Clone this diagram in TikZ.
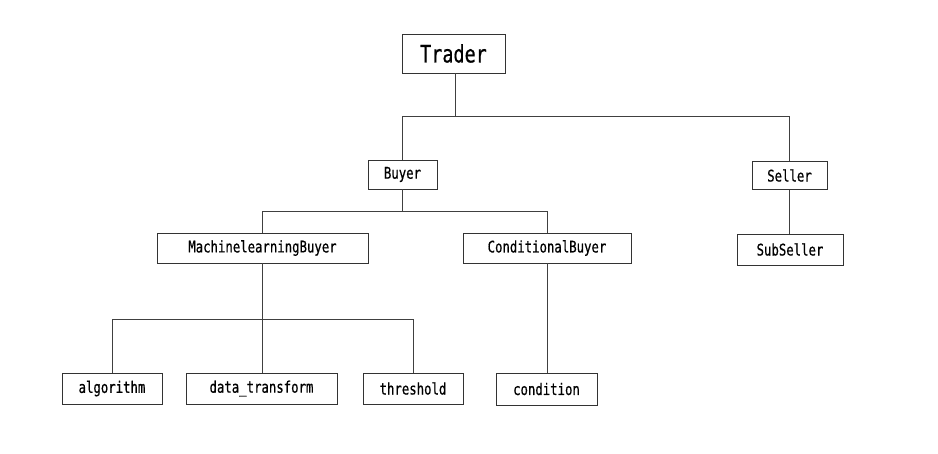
\documentclass[tikz,border=0pt]{standalone}
\usepackage{fontspec}
\newfontfamily\treefont[FakeStretch=0.77, FakeBold=0.6]{DejaVu Sans Mono}
\usetikzlibrary{positioning, calc}

\tikzset{
  cls/.style={draw=black!80, line width=0.8pt, fill=white, inner sep=0pt,
    font=\treefont\fontsize{16}{16}\selectfont},
  link/.style={draw=black!75, line width=0.8pt}
}

\begin{document}
\begin{tikzpicture}[x=1pt, y=-1pt]
            \useasboundingbox (0,0) rectangle (938,453);
            % classes
            \node[cls, minimum width=103pt, minimum height=39pt, font=\treefont\fontsize{24}{24}\selectfont] (Trader) at (453.5,53.5) {Trader};
            \node[cls, minimum width=69pt, minimum height=29pt] (Buyer) at (402.5,174.5) {Buyer};
            \node[cls, minimum width=75pt, minimum height=28pt] (Seller) at (789.5,175.5) {Seller};
            \node[cls, minimum width=211pt, minimum height=30pt] (MLBuyer) at (262.5,248) {MachinelearningBuyer};
            \node[cls, minimum width=168pt, minimum height=30pt] (CondBuyer) at (547,248) {ConditionalBuyer};
            \node[cls, minimum width=106pt, minimum height=31pt] (SubSeller) at (790,249.5) {SubSeller};
            \node[cls, minimum width=100pt, minimum height=31pt] (algorithm) at (112,388.5) {algorithm};
            \node[cls, minimum width=151pt, minimum height=31pt] (transform) at (261.5,388.5) {data\_transform};
            \node[cls, minimum width=100pt, minimum height=31pt] (threshold) at (413,388.5) {threshold};
            \node[cls, minimum width=101pt, minimum height=32pt] (condition) at (546.5,389) {condition};
            % junctions
            \coordinate (jTrader) at (455,116);
            \coordinate (jBuyer) at (402.5,211);
            \coordinate (jML) at (262.5,319);
            % links
            \draw[link] (Trader.south -| jTrader) -- (jTrader) -| (Buyer.north);
            \draw[link] (jTrader) -| (Seller.north);
            \draw[link] (Buyer.south) -- (jBuyer) -| (MLBuyer.north);
            \draw[link] (jBuyer) -| (CondBuyer.north);
            \draw[link] (Seller.south) -- (SubSeller.north -| Seller.south);
            \draw[link, line width=1.2pt] (MLBuyer.south) -- (jML);
            \draw[link] (jML) -| (algorithm.north);
            \draw[link] (jML) -- (transform.north -| jML);
            \draw[link] (jML) -| (threshold.north);
            \draw[link] (CondBuyer.south) -- (condition.north -| CondBuyer.south);
        \end{tikzpicture}
\end{document}
